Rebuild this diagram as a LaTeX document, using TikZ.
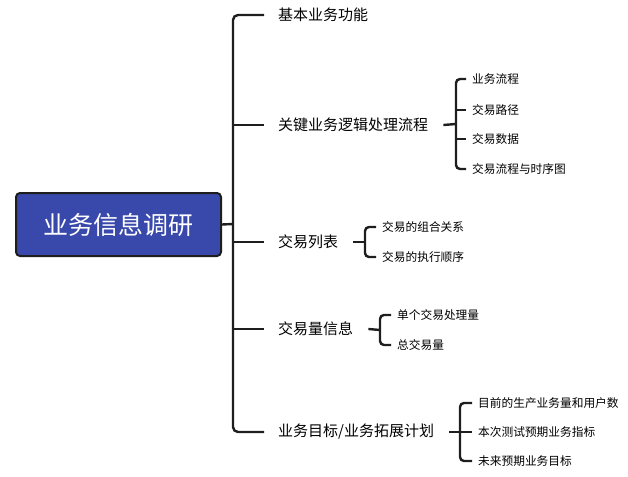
\documentclass[tikz,border=0pt]{standalone}
\usepackage{fontspec}
\setmainfont{Noto Sans CJK SC}
\definecolor{rootblue}{RGB}{57,73,171}
\definecolor{linegray}{RGB}{30,30,30}
\tikzset{
  conn/.style={draw=linegray,line width=2.4pt,rounded corners=5pt},
  brace/.style={conn,rounded corners=4pt},
  topic/.style={anchor=west,inner sep=0pt,font=\fontsize{15}{18}\selectfont},
  leaf/.style={anchor=west,inner sep=0pt,font=\fontsize{11.7}{14}\selectfont},
}
\begin{document}
\begin{tikzpicture}[x=1pt,y=-1pt]
\useasboundingbox (0,0) rectangle (628,476);

\node[draw=linegray,line width=2pt,fill=rootblue,rounded corners=4pt,
  minimum width=205,minimum height=63,text=white,
  font=\fontsize{25}{30}\selectfont] (root) at (118.5,224.5) {业务信息调研};

\node[topic] (basic) at (278,15) {基本业务功能};
\node[topic] (logic) at (278,125) {关键业务逻辑处理流程};
\node[topic] (list) at (278,242) {交易列表};
\node[topic] (volume) at (278,329) {交易量信息};
\node[topic] (plan) at (278,432) {业务目标/业务拓展计划};

\coordinate (trunk) at (233,224);
\draw[conn] (root.east) -- (trunk);
\draw[conn] ([xshift=-14pt]basic.west) -| (trunk) |- ([xshift=-14pt]plan.west);
\foreach \t in {logic,list,volume}
  \draw[conn] (trunk |- \t.west) -- ([xshift=-14pt]\t.west);

% leaves of logic
\node[leaf] (flow) at (472,79) {业务流程};
\node[leaf] (path) at (472,110) {交易路径};
\node[leaf] (data) at (472,139) {交易数据};
\node[leaf] (seq) at (472,169) {交易流程与时序图};
\coordinate (klogic) at (456,124);
\draw[conn] ([xshift=15pt]logic.east) -- (klogic);
\draw[brace] ([xshift=-6pt]flow.west) -| (klogic) |- ([xshift=-6pt]seq.west);
\foreach \t in {path,data}
  \draw[conn] (klogic |- \t.west) -- ([xshift=-6pt]\t.west);

% leaves of list
\node[leaf] (combo) at (382,227) {交易的组合关系};
\node[leaf] (order) at (382,257) {交易的执行顺序};
\coordinate (klist) at (365,242);
\draw[conn] ([xshift=15pt]list.east) -- (klist);
\draw[brace] ([xshift=-6pt]combo.west) -| (klist) |- ([xshift=-6pt]order.west);

% leaves of volume
\node[leaf] (single) at (397,315) {单个交易处理量};
\node[leaf] (total) at (397,345) {总交易量};
\coordinate (kvolume) at (380,330);
\draw[conn] ([xshift=15pt]volume.east) -- (kvolume);
\draw[brace] ([xshift=-6pt]single.west) -| (kvolume) |- ([xshift=-6pt]total.west);

% leaves of plan
\node[leaf] (now) at (478,403) {目前的生产业务量和用户数};
\node[leaf] (target) at (478,432) {本次测试预期业务指标};
\node[leaf] (future) at (478,461) {未来预期业务目标};
\coordinate (kplan) at (460,432);
\draw[conn] ([xshift=15pt]plan.east) -- (kplan);
\draw[brace] ([xshift=-6pt]now.west) -| (kplan) |- ([xshift=-6pt]future.west);
\draw[conn] (kplan) -- ([xshift=-6pt]target.west);
\end{tikzpicture}
\end{document}
